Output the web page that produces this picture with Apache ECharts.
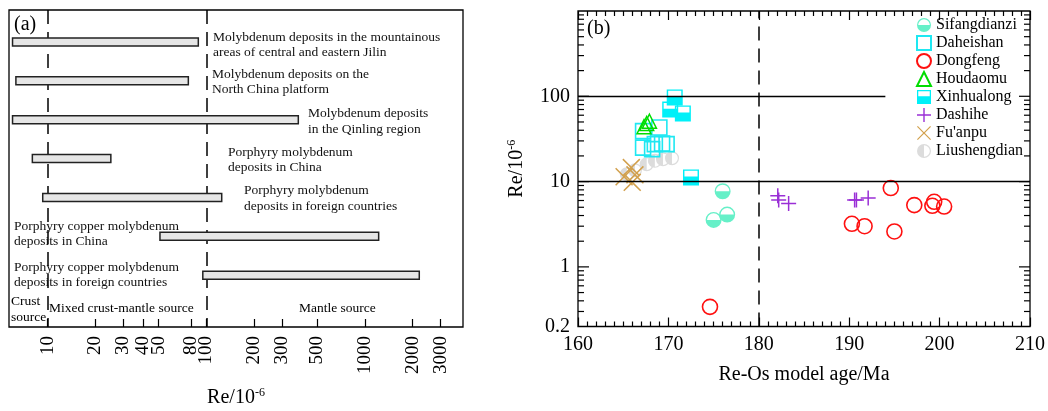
<!DOCTYPE html>
<html><head><meta charset="utf-8">
<script src="https://cdn.jsdelivr.net/npm/echarts@6/dist/echarts.min.js"></script>
<style>html,body{margin:0;padding:0;background:#fff}#c{width:1048px;height:411px}</style>
</head><body><div id="c"></div>
<script>
// ---------- Panel (a): Re content ranges of Mo deposit types ----------
const depositTypes = [
  'Molybdenum deposits in the mountainous\nareas of central and eastern Jilin',
  'Molybdenum deposits on the\nNorth China platform',
  'Molybdenum deposits\nin the Qinling region',
  'Porphyry molybdenum\ndeposits in China',
  'Porphyry molybdenum\ndeposits in foreign countries',
  'Porphyry copper molybdenum\ndeposits in China',
  'Porphyry copper molybdenum\ndeposits in foreign countries'
];
const reLow  = [6, 6.3, 6, 8, 9.3, 51, 95];
const reHigh = [89, 77, 380, 25, 125, 1220, 2200];
const reTicksA = [10, 20, 30, 40, 50, 80, 100, 200, 300, 500, 1000, 2000, 3000];
const sourceBounds = [10, 100];

// ---------- Panel (b): Re vs Re-Os model age ----------
const sifangdianzi = [[176.0, 7.7], [175.0, 3.55], [176.5, 4.1]];
const daheishan = [[167.2, 39], [169.0, 43], [167.2, 25], [168.2, 24], [168.5, 27.5], [169.3, 28], [169.8, 27.5]];
const dongfeng = [[174.6, 0.34], [190.3, 3.2], [191.7, 3.0], [194.6, 8.4], [195.0, 2.6], [197.2, 5.3], [199.2, 5.2], [199.4, 5.8], [200.5, 5.1]];
const houdaomu = [[167.3, 44], [167.6, 48], [167.9, 51]];
const xinhualong = [[170.7, 97], [170.2, 70], [171.6, 63], [172.5, 11.2]];
const dashihe = [[182.1, 6.8], [182.2, 6.1], [183.3, 5.55], [190.6, 6.1], [190.8, 6.1], [192.1, 6.4]];
const fuanpu = [[165.9, 14.6], [165.1, 11.4], [166.3, 12.0], [166.0, 9.8]];
const liushengdian = [[165.4, 12.2], [166.3, 13.6], [167.6, 16.0], [168.5, 17.5], [169.4, 18.3], [170.4, 18.8]];
const ageRange = [160, 210];
const reLabelsB = [0.2, 1, 10, 100];
const reMajorB = [1, 10, 100];
const reMinorB = [0.3,0.4,0.5,0.6,0.7,0.8,0.9,2,3,4,5,6,7,8,9,20,30,40,50,60,70,80,90,200,300,400,500,600,700,800,900];
const boundaryAge = 180;
const reLevels = [10, 100];
const upperLineEndAge = 194;

// ---------- layout / style (not data) ----------
const FONT = 'Liberation Serif';
const labelX = [213, 212, 308, 228, 244, 14, 14];
const labelDy = [3, 1, 2, 1.5, 1, -2.5, -0.5];
const SYM = {
  halfBottomCircle: 'path://M0,10 A10,10,0,0,1,20,10 L18.3,10 A8.3,8.3,0,0,0,1.7,10 Z M0,10 A10,10,0,0,0,20,10 Z',
  halfBottomSquare: 'path://M0,0 L20,0 L20,9 L18.2,9 L18.2,1.8 L1.8,1.8 L1.8,9 L0,9 Z M0,9 L20,9 L20,20 L0,20 Z',
  halfLeftCircle: 'path://M10,0 A10,10,0,0,0,10,20 Z M10,0 A10,10,0,0,1,10,20 L10,18.3 A8.3,8.3,0,0,0,10,1.7 Z',
  plus: 'path://M9,0 L11,0 L11,9 L20,9 L20,11 L11,11 L11,20 L9,20 L9,11 L0,11 L0,9 L9,9 Z',
  cross: 'path://M0,1.2 L1.2,0 L10,8.8 L18.8,0 L20,1.2 L11.2,10 L20,18.8 L18.8,20 L10,11.2 L1.2,20 L0,18.8 L8.8,10 Z'
};
const richName = {
  fontSize: 20, fontFamily: FONT, color: '#000',
  rich: { sup: { fontSize: 12, fontFamily: FONT, color: '#000', padding: [0, 0, 10, 0] } }
};

const chart = echarts.init(document.getElementById('c'), null, {renderer: 'canvas'});

function renderRange(params, api) {
  const i = params.dataIndex;
  const s = api.coord([api.value(0), api.value(2)]);
  const e = api.coord([api.value(1), api.value(2)]);
  const h = 8;
  return {
    type: 'group',
    children: [
      {type: 'rect', shape: {x: s[0], y: s[1] - h / 2, width: e[0] - s[0], height: h},
       style: {fill: '#e6e6e6', stroke: '#222', lineWidth: 1.5}},
      {type: 'text', x: labelX[i], y: s[1] + labelDy[i],
       style: {text: depositTypes[i], fontSize: 13.5, fontFamily: FONT, fill: '#111',
               align: 'left', verticalAlign: 'middle', lineHeight: 15.5}}
    ]
  };
}

// tick marks on both sides of the log Re axis of panel (b), placed via the axis scale
function makeTickRenderer(len) {
  return function (params, api) {
    const cs = params.coordSys;
    const y = api.coord([ageRange[0], api.value(0)])[1];
    const st = {stroke: '#000', lineWidth: 1.2};
    return {type: 'group', children: [
      {type: 'line', shape: {x1: cs.x, y1: y, x2: cs.x + len, y2: y}, style: st},
      {type: 'line', shape: {x1: cs.x + cs.width - len, y1: y, x2: cs.x + cs.width, y2: y}, style: st}
    ]};
  };
}

const tickLine = {color: '#000', width: 1.2};
const option = {
  animation: false,
  backgroundColor: '#fff',
  grid: [
    {left: 9, top: 10, right: 585, bottom: 84, show: true, borderColor: '#000', borderWidth: 1.3, backgroundColor: 'transparent', containLabel: false, outerBoundsMode: 'none'},
    {left: 578, top: 11, right: 18, bottom: 84.5, show: true, borderColor: '#000', borderWidth: 1.3, backgroundColor: 'transparent', containLabel: false, outerBoundsMode: 'none'}
  ],
  xAxis: [
    {gridIndex: 0, type: 'log', min: 5.7, max: 4150, position: 'bottom',
     axisLine: {show: false, onZero: false}, splitLine: {show: false},
     axisTick: {show: true, inside: true, length: 8, customValues: reTicksA, lineStyle: tickLine},
     axisLabel: {customValues: reTicksA, rotate: 90, margin: 9, fontSize: 19, fontFamily: FONT, color: '#000', hideOverlap: false, formatter: v => String(v)},
     name: 'Re/10{sup|-6}', nameLocation: 'middle', nameGap: 60, nameTextStyle: richName},
    {gridIndex: 1, type: 'value', min: ageRange[0], max: ageRange[1], interval: 10, position: 'bottom',
     axisLine: {show: false, onZero: false}, splitLine: {show: false},
     axisTick: {show: true, inside: true, length: 9, lineStyle: tickLine},
     minorTick: {show: true, splitNumber: 10, length: 5, lineStyle: tickLine},
     axisLabel: {margin: 8, fontSize: 20, fontFamily: FONT, color: '#000'},
     name: 'Re-Os model age/Ma', nameLocation: 'middle', nameGap: 38, nameTextStyle: {fontSize: 20, fontFamily: FONT, color: '#000'}},
    {gridIndex: 1, type: 'value', min: ageRange[0], max: ageRange[1], interval: 10, position: 'top',
     axisLine: {show: false, onZero: false}, splitLine: {show: false},
     axisTick: {show: true, inside: true, length: 9, lineStyle: tickLine},
     minorTick: {show: true, splitNumber: 10, length: 5, lineStyle: tickLine},
     axisLabel: {show: false}}
  ],
  yAxis: [
    {gridIndex: 0, type: 'value', min: -0.82, max: 7.33, inverse: true, show: false},
    {gridIndex: 1, type: 'log', min: 0.2, max: 1000, position: 'left',
     axisLine: {show: false}, splitLine: {show: false},
     axisTick: {show: false},
     axisLabel: {customValues: reLabelsB, margin: 8, fontSize: 20, fontFamily: FONT, color: '#000', formatter: v => String(v)},
     name: 'Re/10{sup|-6}', nameLocation: 'middle', nameGap: 50, nameTextStyle: richName}
  ],
  legend: {
    orient: 'vertical', left: 911, top: 12, itemWidth: 14, itemHeight: 14, itemGap: 2,
    textStyle: {fontSize: 16, fontFamily: FONT, color: '#000', lineHeight: 16},
    data: ['Sifangdianzi', 'Daheishan', 'Dongfeng', 'Houdaomu', 'Xinhualong', 'Dashihe', "Fu'anpu", 'Liushengdian']
  },
  graphic: [
    {type: 'text', left: 14, top: 15, style: {text: '(a)', fontSize: 20, fontFamily: FONT, fill: '#000'}},
    {type: 'text', left: 587, top: 19, style: {text: '(b)', fontSize: 20, fontFamily: FONT, fill: '#000'}},
    {type: 'text', left: 11, top: 293, style: {text: 'Crust\nsource', fontSize: 13.5, lineHeight: 16, fontFamily: FONT, fill: '#000'}},
    {type: 'text', left: 49, top: 301, style: {text: 'Mixed crust-mantle source', fontSize: 13.5, fontFamily: FONT, fill: '#000'}},
    {type: 'text', left: 299, top: 301, style: {text: 'Mantle source', fontSize: 13.5, fontFamily: FONT, fill: '#000'}}
  ],
  series: [
    {type: 'custom', name: 'ranges', xAxisIndex: 0, yAxisIndex: 0, renderItem: renderRange, clip: false, z: 3,
     encode: {x: [0, 1], y: 2},
     data: depositTypes.map((_, i) => [reLow[i], reHigh[i], i]),
     markLine: {silent: true, symbol: ['none', 'none'], label: {show: false}, z: 2,
       lineStyle: {color: '#000', width: 1.5, type: [14, 8]},
       data: sourceBounds.map(v => ({xAxis: v}))}},
    {type: 'custom', name: 'majorTicks', xAxisIndex: 1, yAxisIndex: 1, silent: true, clip: false,
     encode: {y: 0}, renderItem: makeTickRenderer(11), data: reMajorB.map(v => [v])},
    {type: 'custom', name: 'minorTicks', xAxisIndex: 1, yAxisIndex: 1, silent: true, clip: false,
     encode: {y: 0}, renderItem: makeTickRenderer(6), data: reMinorB.map(v => [v])},
    {type: 'scatter', name: 'Liushengdian', xAxisIndex: 1, yAxisIndex: 1, data: liushengdian,
     symbol: SYM.halfLeftCircle, symbolSize: 14, itemStyle: {color: '#dcdcdc', borderWidth: 0, opacity: 1}},
    {type: 'scatter', name: 'Sifangdianzi', xAxisIndex: 1, yAxisIndex: 1, data: sifangdianzi,
     symbol: SYM.halfBottomCircle, symbolSize: 16, itemStyle: {color: '#66f0c8', borderWidth: 0, opacity: 1},
     markLine: {silent: true, symbol: ['none', 'none'], label: {show: false},
       lineStyle: {color: '#000', width: 1.3, type: 'solid'},
       data: [
         {xAxis: boundaryAge, lineStyle: {type: [14, 8], width: 1.5}},
         {yAxis: reLevels[0]},
         [{coord: [ageRange[0], reLevels[1]]}, {coord: [upperLineEndAge, reLevels[1]]}]
       ]}},
    {type: 'scatter', name: 'Daheishan', xAxisIndex: 1, yAxisIndex: 1, data: daheishan,
     symbol: 'rect', symbolSize: 15, itemStyle: {color: 'rgba(0,0,0,0)', borderColor: '#1ee8f2', borderWidth: 1.6, opacity: 1}},
    {type: 'scatter', name: 'Houdaomu', xAxisIndex: 1, yAxisIndex: 1, data: houdaomu,
     symbol: 'triangle', symbolSize: 14, itemStyle: {color: 'rgba(0,0,0,0)', borderColor: '#00dd00', borderWidth: 1.5, opacity: 1}},
    {type: 'scatter', name: 'Xinhualong', xAxisIndex: 1, yAxisIndex: 1, data: xinhualong,
     symbol: SYM.halfBottomSquare, symbolSize: 16, itemStyle: {color: '#00f0f8', borderWidth: 0, opacity: 1}},
    {type: 'scatter', name: "Fu'anpu", xAxisIndex: 1, yAxisIndex: 1, data: fuanpu,
     symbol: SYM.cross, symbolSize: 18, itemStyle: {color: '#d2a04c', borderWidth: 0, opacity: 1}},
    {type: 'scatter', name: 'Dashihe', xAxisIndex: 1, yAxisIndex: 1, data: dashihe,
     symbol: SYM.plus, symbolSize: 15, itemStyle: {color: '#9a2fd6', borderWidth: 0, opacity: 1}},
    {type: 'scatter', name: 'Dongfeng', xAxisIndex: 1, yAxisIndex: 1, data: dongfeng,
     symbol: 'circle', symbolSize: 15, itemStyle: {color: 'rgba(0,0,0,0)', borderColor: '#ff1010', borderWidth: 1.6, opacity: 1}}
  ]
};
chart.setOption(option);
</script>
</body></html>
